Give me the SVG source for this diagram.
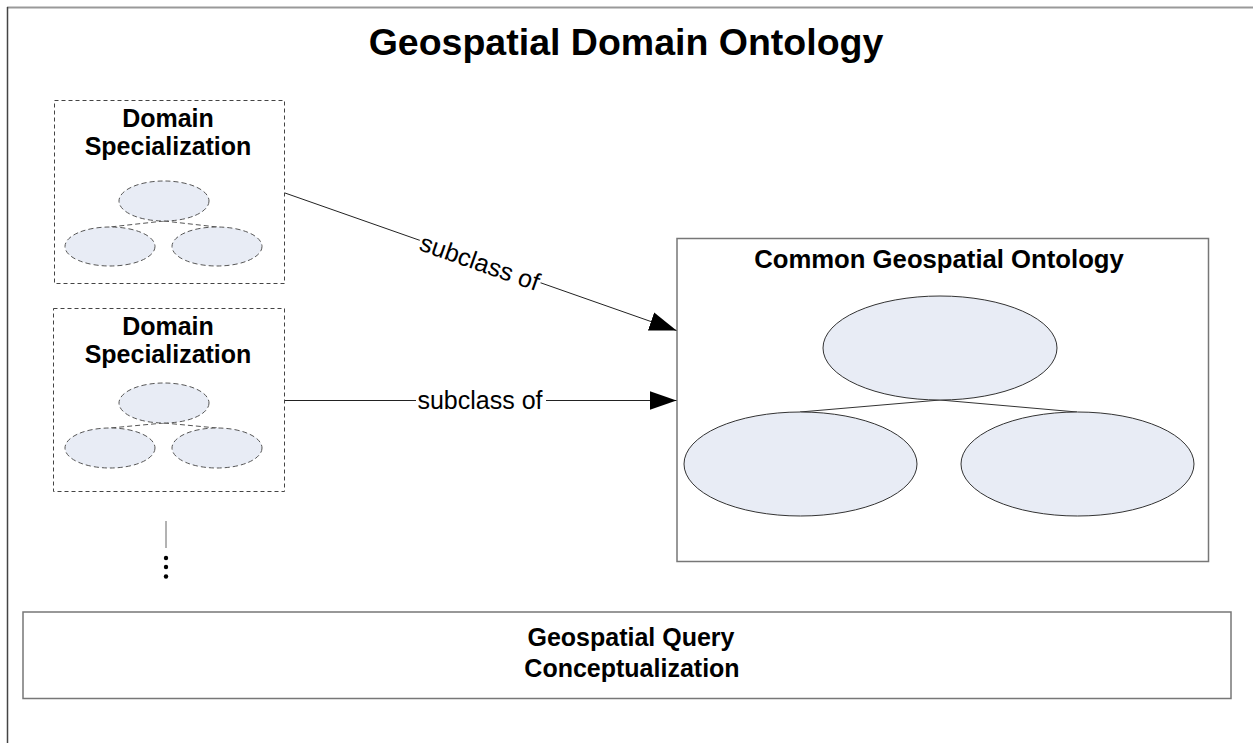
<svg xmlns="http://www.w3.org/2000/svg" width="1253" height="743" viewBox="0 0 1253 743">
<style>
text{font-family:"Liberation Sans",Arial,sans-serif;fill:#000}
.b{font-weight:bold}
.dbox{fill:#fff;stroke:#444;stroke-width:1;stroke-dasharray:4,3}
.dell{fill:#e8ecf5;stroke:#555;stroke-width:1;stroke-dasharray:5,3}
.ell{fill:#e8ecf5;stroke:#333;stroke-width:1}
.box{fill:#fff;stroke:#777;stroke-width:1.5}
.conn{stroke:#222;stroke-width:1;fill:none}
</style>
<defs>
<marker id="arr" markerWidth="27" markerHeight="20" refX="27" refY="10" orient="auto" markerUnits="userSpaceOnUse">
<path d="M0,0.5 L27,10 L0,19.5 Z" fill="#000"/>
</marker>
</defs>
<rect width="1253" height="743" fill="#fff"/>
<g id="frame">
<line x1="7" y1="7.5" x2="1253" y2="7.5" stroke="#999" stroke-width="2"/>
<line x1="7.5" y1="7" x2="7.5" y2="743" stroke="#444" stroke-width="1.5"/>
</g>
<g id="title"><text class="b" x="626" y="55" font-size="37.5" text-anchor="middle">Geospatial Domain Ontology</text></g>
<g id="domain1">
<rect class="dbox" x="54.5" y="100.5" width="230" height="183"/>
<text class="b" x="168" y="127" font-size="25" text-anchor="middle">Domain</text>
<text class="b" x="168" y="155" font-size="25" text-anchor="middle">Specialization</text>
<line x1="164" y1="221" x2="110" y2="227" class="dell"/>
<line x1="164" y1="221" x2="217" y2="227" class="dell"/>
<ellipse class="dell" cx="164" cy="201" rx="45" ry="20"/>
<ellipse class="dell" cx="110" cy="246.5" rx="45" ry="19.5"/>
<ellipse class="dell" cx="217" cy="246.5" rx="45" ry="19.5"/>
</g>
<g id="domain2">
<rect class="dbox" x="53.5" y="308.5" width="231" height="183"/>
<text class="b" x="168" y="335" font-size="25" text-anchor="middle">Domain</text>
<text class="b" x="168" y="363" font-size="25" text-anchor="middle">Specialization</text>
<line x1="164" y1="423" x2="110" y2="428" class="dell"/>
<line x1="164" y1="423" x2="217" y2="428" class="dell"/>
<ellipse class="dell" cx="164" cy="403" rx="45" ry="20"/>
<ellipse class="dell" cx="110" cy="448" rx="45" ry="20"/>
<ellipse class="dell" cx="217" cy="448" rx="45" ry="20"/>
</g>
<g id="more">
<line x1="166" y1="521" x2="166" y2="548" stroke="#666" stroke-width="1"/>
<circle cx="166" cy="558" r="2.2" fill="#000"/>
<circle cx="166" cy="567" r="2.2" fill="#000"/>
<circle cx="166" cy="576.5" r="2.2" fill="#000"/>
</g>
<g id="common">
<rect class="box" x="677" y="238.5" width="531.5" height="323"/>
<text class="b" x="939" y="268" font-size="25.7" text-anchor="middle">Common Geospatial Ontology</text>
<line class="ell" x1="940" y1="400" x2="800" y2="412"/>
<line class="ell" x1="940" y1="400" x2="1077" y2="412"/>
<ellipse class="ell" cx="940" cy="348" rx="117" ry="52"/>
<ellipse class="ell" cx="800.5" cy="464" rx="116.5" ry="52"/>
<ellipse class="ell" cx="1077.5" cy="464" rx="116.5" ry="52"/>
</g>
<g id="query">
<rect class="box" x="23" y="612" width="1208" height="86.5"/>
<text class="b" x="631" y="646" font-size="25" text-anchor="middle">Geospatial Query</text>
<text class="b" x="632" y="677" font-size="25" text-anchor="middle">Conceptualization</text>
</g>
<g id="connectors">
<line class="conn" x1="285" y1="193" x2="676.5" y2="330.5" marker-end="url(#arr)"/>
<line class="conn" x1="285" y1="400.5" x2="676.5" y2="400.5" marker-end="url(#arr)"/>
<rect x="416" y="385" width="130" height="26" fill="#fff"/>
<text x="480" y="409" font-size="25" text-anchor="middle">subclass of</text>
<g transform="translate(480,262) rotate(19.3)">
<rect x="-64" y="-14" width="128" height="26" fill="#fff"/>
<text x="0" y="9" font-size="25" text-anchor="middle">subclass of</text>
</g>
</g>
</svg>
